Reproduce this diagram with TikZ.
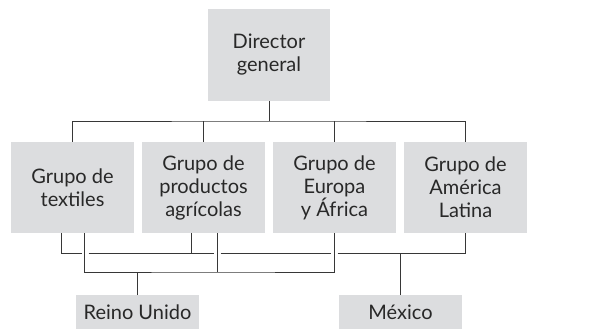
\documentclass[tikz,border=0pt]{standalone}
\usepackage{fontspec}
\setmainfont{Lato}
\definecolor{boxGray}{RGB}{220,221,223}
\definecolor{lineGray}{RGB}{55,55,55}
\definecolor{textGray}{RGB}{40,40,40}
\tikzset{
  unit/.style={fill=boxGray, minimum width=123pt, minimum height=91pt, inner sep=0pt,
    align=center, text=textGray, font=\fontsize{20}{23}\selectfont},
  place/.style={unit, minimum height=34pt, anchor=north},
  link/.style={draw=lineGray, line width=0.9pt},
}
\begin{document}
\begin{tikzpicture}[x=1pt, y=-1pt]
  \useasboundingbox (0,0) rectangle (591,329);

  % director and the four groups
  \node[unit, minimum width=122pt, minimum height=92pt] (dir) at (269,55) {Director\\general};
  \node[unit] (tex) at (72.5,187.5) {Grupo de\\textiles};
  \node[unit] (agr) at (203.5,187.5) {Grupo de\\productos\\agrícolas};
  \node[unit] (eur) at (334.5,187.5) {Grupo de\\Europa\\y África};
  \node[unit] (ame) at (465.5,187.5) {Grupo de\\América\\Latina};

  % countries
  \node[place] (reino) at (137.5,295) {Reino Unido};
  \node[place] (mex) at (400.5,295) {México};

  % top bus
  \coordinate (dbus) at (269,121);
  \draw[link] (dir.south) -- (dbus);
  \draw[link] (tex.north) |- (dbus) -| (ame.north);
  \draw[link] (agr.north) -- (agr.north |- dbus);
  \draw[link] (eur.north) -- (eur.north |- dbus);

  % lower bus to Reino Unido
  \coordinate (rbus) at (217,272);
  \draw[link] ([xshift=12pt]tex.south) |- (rbus) -| (eur.south);
  \draw[link] ([xshift=13.5pt]agr.south) -- (rbus);
  \draw[link] (reino.north) -- (reino.north |- rbus);

  % upper bus to Mexico, broken where it crosses
  \coordinate (m1) at (81.5,253);
  \coordinate (m2) at (88.5,253);
  \coordinate (m3) at (213.5,253);
  \coordinate (m4) at (220.5,253);
  \coordinate (m5) at (330.5,253);
  \coordinate (m6) at (337.5,253);
  \coordinate (agrl) at ([xshift=-12.5pt]agr.south);
  \draw[link] ([xshift=-11.5pt]tex.south) |- (m1);
  \draw[link] (m2) -- (m3);
  \draw[link] (agrl) -- (agrl |- m2);
  \draw[link] (m4) -- (m5);
  \draw[link] (m6) -| (ame.south);
  \draw[link] (mex.north) -- (mex.north |- m6);
\end{tikzpicture}
\end{document}
